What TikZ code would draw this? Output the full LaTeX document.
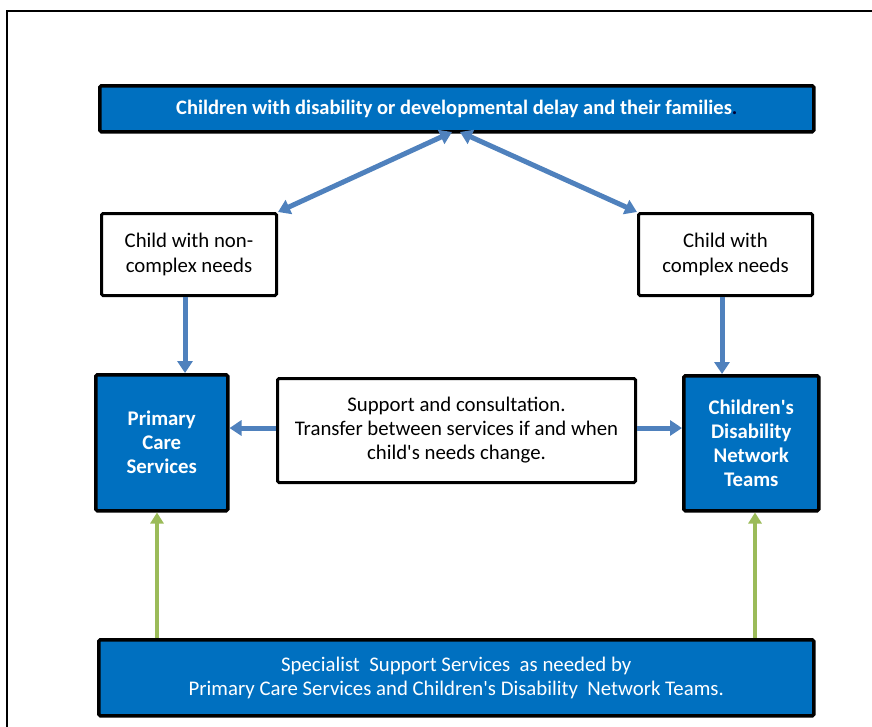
\documentclass[tikz,border=0pt]{standalone}
\usepackage{fontspec}
\setmainfont{Carlito}
\usetikzlibrary{arrows.meta,positioning}
\definecolor{boxblue}{HTML}{0070C0}
\definecolor{arrblue}{HTML}{4F81BD}
\definecolor{arrgreen}{HTML}{9BBB59}
\tikzset{
  bluebox/.style={draw=black, line width=3.5pt, fill=boxblue, text=white, rounded corners=1.5pt, align=center, inner sep=0pt, anchor=north west},
  whitebox/.style={draw=black, line width=3pt, fill=white, text=black, rounded corners=1.5pt, align=center, inner sep=0pt, anchor=north west},
  txt/.style={font=\fontsize{20.8}{24}\selectfont},
  btxt/.style={font=\fontsize{20.8}{24}\selectfont\bfseries},
  barrow/.style={draw=arrblue, line width=5pt, -{Triangle[width=15pt,length=12pt]}},
  bbarrow/.style={draw=arrblue, line width=5pt, {Triangle[width=15pt,length=12pt]}-{Triangle[width=15pt,length=12pt]}},
  garrow/.style={draw=arrgreen, line width=4.2pt, -{Triangle[width=13pt,length=11pt]}},
}
\begin{document}
\begin{tikzpicture}[x=1pt,y=-1pt]
\useasboundingbox (0,0) rectangle (872,726);
\draw[line width=2pt] (7,727) -- (7,11) -- (873,11);

\node[bluebox, minimum width=714pt, minimum height=46pt, font=\fontsize{20.5}{24}\selectfont\bfseries] (top) at (98,84) {Children with disability or developmental delay and their families\textcolor{black!80!blue}{.}};

\node[whitebox, minimum width=175pt, minimum height=82pt, font=\fontsize{20.8}{25}\selectfont] (ncx) at (100,212) {Child with non-\\complex needs};
\node[whitebox, minimum width=174pt, minimum height=82pt, font=\fontsize{20.8}{25}\selectfont] (cx) at (637,212) {Child with\\complex needs};

\node[bluebox, minimum width=132pt, minimum height=136pt, btxt] (pcs) at (94,373) {Primary\\Care\\Services};
\node[whitebox, minimum width=358pt, minimum height=104pt, txt] (mid) at (276,377) {Support and consultation.\\Transfer between services if and when\\child\textquotesingle s needs change.};
\node[bluebox, minimum width=135pt, minimum height=135pt, btxt] (cdnt) at (682,374) {Children\textquotesingle s\\Disability\\Network\\Teams};

\node[bluebox, minimum width=715pt, minimum height=76pt, txt] (bot) at (97,638) {Specialist\ \ Support Services\ \ as needed by\\Primary Care Services and Children\textquotesingle s Disability\ \ Network Teams.};

\coordinate (tl) at (452,132);
\coordinate (tr) at (460,132);
\draw[bbarrow] (tl) -- (ncx.north east);
\draw[bbarrow] (tr) -- (cx.north west);

\draw[barrow] (ncx.south -| 185,0) -- (pcs.north -| 185,0);
\draw[barrow] (cx.south -| 722,0) -- (cdnt.north -| 722,0);

\draw[barrow] (mid.west |- 0,428) -- (pcs.east |- 0,428);
\draw[barrow] (mid.east |- 0,428) -- (cdnt.west |- 0,428);

\draw[garrow] (bot.north -| 157,0) -- (pcs.south -| 157,0);
\draw[garrow] (bot.north -| 755,0) -- (cdnt.south -| 755,0);
\end{tikzpicture}
\end{document}
